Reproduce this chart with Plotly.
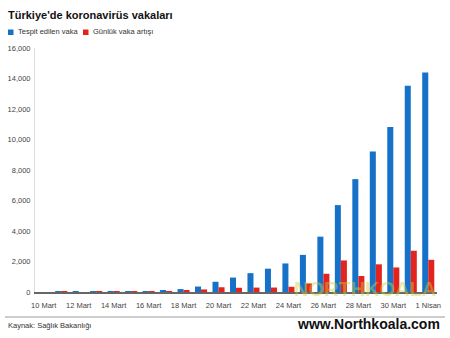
import plotly.graph_objects as go

days = ["10 Mart", "11 Mart", "12 Mart", "13 Mart", "14 Mart", "15 Mart", "16 Mart",
        "17 Mart", "18 Mart", "19 Mart", "20 Mart", "21 Mart", "22 Mart", "23 Mart",
        "24 Mart", "25 Mart", "26 Mart", "27 Mart", "28 Mart", "29 Mart", "30 Mart",
        "31 Mart", "1 Nisan"]
tespit = [0, 1, 1, 5, 6, 18, 47, 98, 191, 359, 670, 947, 1236, 1529, 1872, 2433,
          3629, 5698, 7402, 9217, 10827, 13531, 14400]
gunluk = [0, 1, 0, 4, 1, 12, 29, 51, 93, 168, 311, 277, 289, 293, 343, 561,
          1196, 2069, 1050, 1815, 1610, 2704, 2110]
tick_labels = ["10 Mart", "12 Mart", "14 Mart", "16 Mart", "18 Mart", "20 Mart",
               "22 Mart", "24 Mart", "26 Mart", "28 Mart", "30 Mart", "1 Nisan"]
y_ticks = [0, 2000, 4000, 6000, 8000, 10000, 12000, 14000, 16000]

BLUE = "#1672c8"
RED = "#e2231e"
FONT = "Liberation Sans, Arial, sans-serif"

W, H = 450, 338
L, R, T, B = 35, 13, 48, 46
PW, PH = W - L - R, H - T - B


def px(x):
    return (x - L) / PW


def py(y):
    return (H - B - y) / PH


fig = go.Figure()
fig.add_trace(go.Bar(x=days, y=tespit, name="Tespit edilen vaka", marker_color=BLUE,
                     marker_line_width=0))
fig.add_trace(go.Bar(x=days, y=gunluk, name="Günlük vaka artışı", marker_color=RED,
                     marker_line_width=0))

shapes = [
    dict(type="rect", xref="paper", yref="paper", x0=px(8), x1=px(13.5), y0=py(35), y1=py(29.5),
         fillcolor=BLUE, line_width=0),
    dict(type="rect", xref="paper", yref="paper", x0=px(83), x1=px(88.5), y0=py(35), y1=py(29.5),
         fillcolor=RED, line_width=0),
    dict(type="line", xref="paper", yref="paper", x0=px(5), x1=px(445), y0=py(317), y1=py(317),
         line=dict(color="#9a9a9a", width=1)),
]

annotations = [
    dict(text="<b>Türkiye'de koronavirüs vakaları</b>", xref="paper", yref="paper",
         x=px(6), y=py(15), xanchor="left", yanchor="middle", showarrow=False,
         font=dict(family=FONT, size=11, color="#111111")),
    dict(text="Tespit edilen vaka", xref="paper", yref="paper",
         x=px(15.5), y=py(32), xanchor="left", yanchor="middle", showarrow=False,
         font=dict(family=FONT, size=7.5, color="#333333")),
    dict(text="Günlük vaka artışı", xref="paper", yref="paper",
         x=px(90.5), y=py(32), xanchor="left", yanchor="middle", showarrow=False,
         font=dict(family=FONT, size=7.5, color="#333333")),
    dict(text="Kaynak: Sağlık Bakanlığı", xref="paper", yref="paper",
         x=px(5.5), y=py(325), xanchor="left", yanchor="middle", showarrow=False,
         font=dict(family=FONT, size=7.5, color="#333333")),
    dict(text="<b>NORTHKOALA</b>", xref="paper", yref="paper",
         x=px(365), y=py(289), xanchor="center", yanchor="middle", showarrow=False,
         font=dict(family=FONT, size=20, color="rgba(200,210,60,0.45)")),
    dict(text="<b>www.Northkoala.com</b>", xref="paper", yref="paper",
         x=px(368), y=py(324), xanchor="center", yanchor="middle", showarrow=False,
         font=dict(family=FONT, size=14, color="#111111")),
]

fig.update_layout(
    template="none",
    width=W, height=H,
    margin=dict(l=L, r=R, t=T, b=B, pad=0, autoexpand=False),
    paper_bgcolor="white", plot_bgcolor="white",
    barmode="group", bargap=0.31, bargroupgap=0,
    showlegend=False,
    shapes=shapes, annotations=annotations,
    font=dict(family=FONT, size=7.5, color="#444444"),
    xaxis=dict(
        type="category", range=[-0.5, 22.5], automargin=False,
        tickmode="array", tickvals=days[::2], ticktext=tick_labels,
        showline=True, linecolor="#666666", linewidth=1.5,
        ticks="outside", ticklen=5, tickcolor="rgba(0,0,0,0)",
        tickfont=dict(family=FONT, size=7.5, color="#444444"),
        showgrid=False, zeroline=False, tickangle=0,
    ),
    yaxis=dict(
        range=[0, 16000], tickmode="array", tickvals=y_ticks, automargin=False,
        tickformat=",d", showgrid=False, zeroline=False,
        showline=True, linecolor="#dddddd", linewidth=1,
        ticks="outside", ticklen=2, tickcolor="rgba(0,0,0,0)",
        tickfont=dict(family=FONT, size=7.5, color="#444444"),
    ),
)

fig.write_html("out.html")
